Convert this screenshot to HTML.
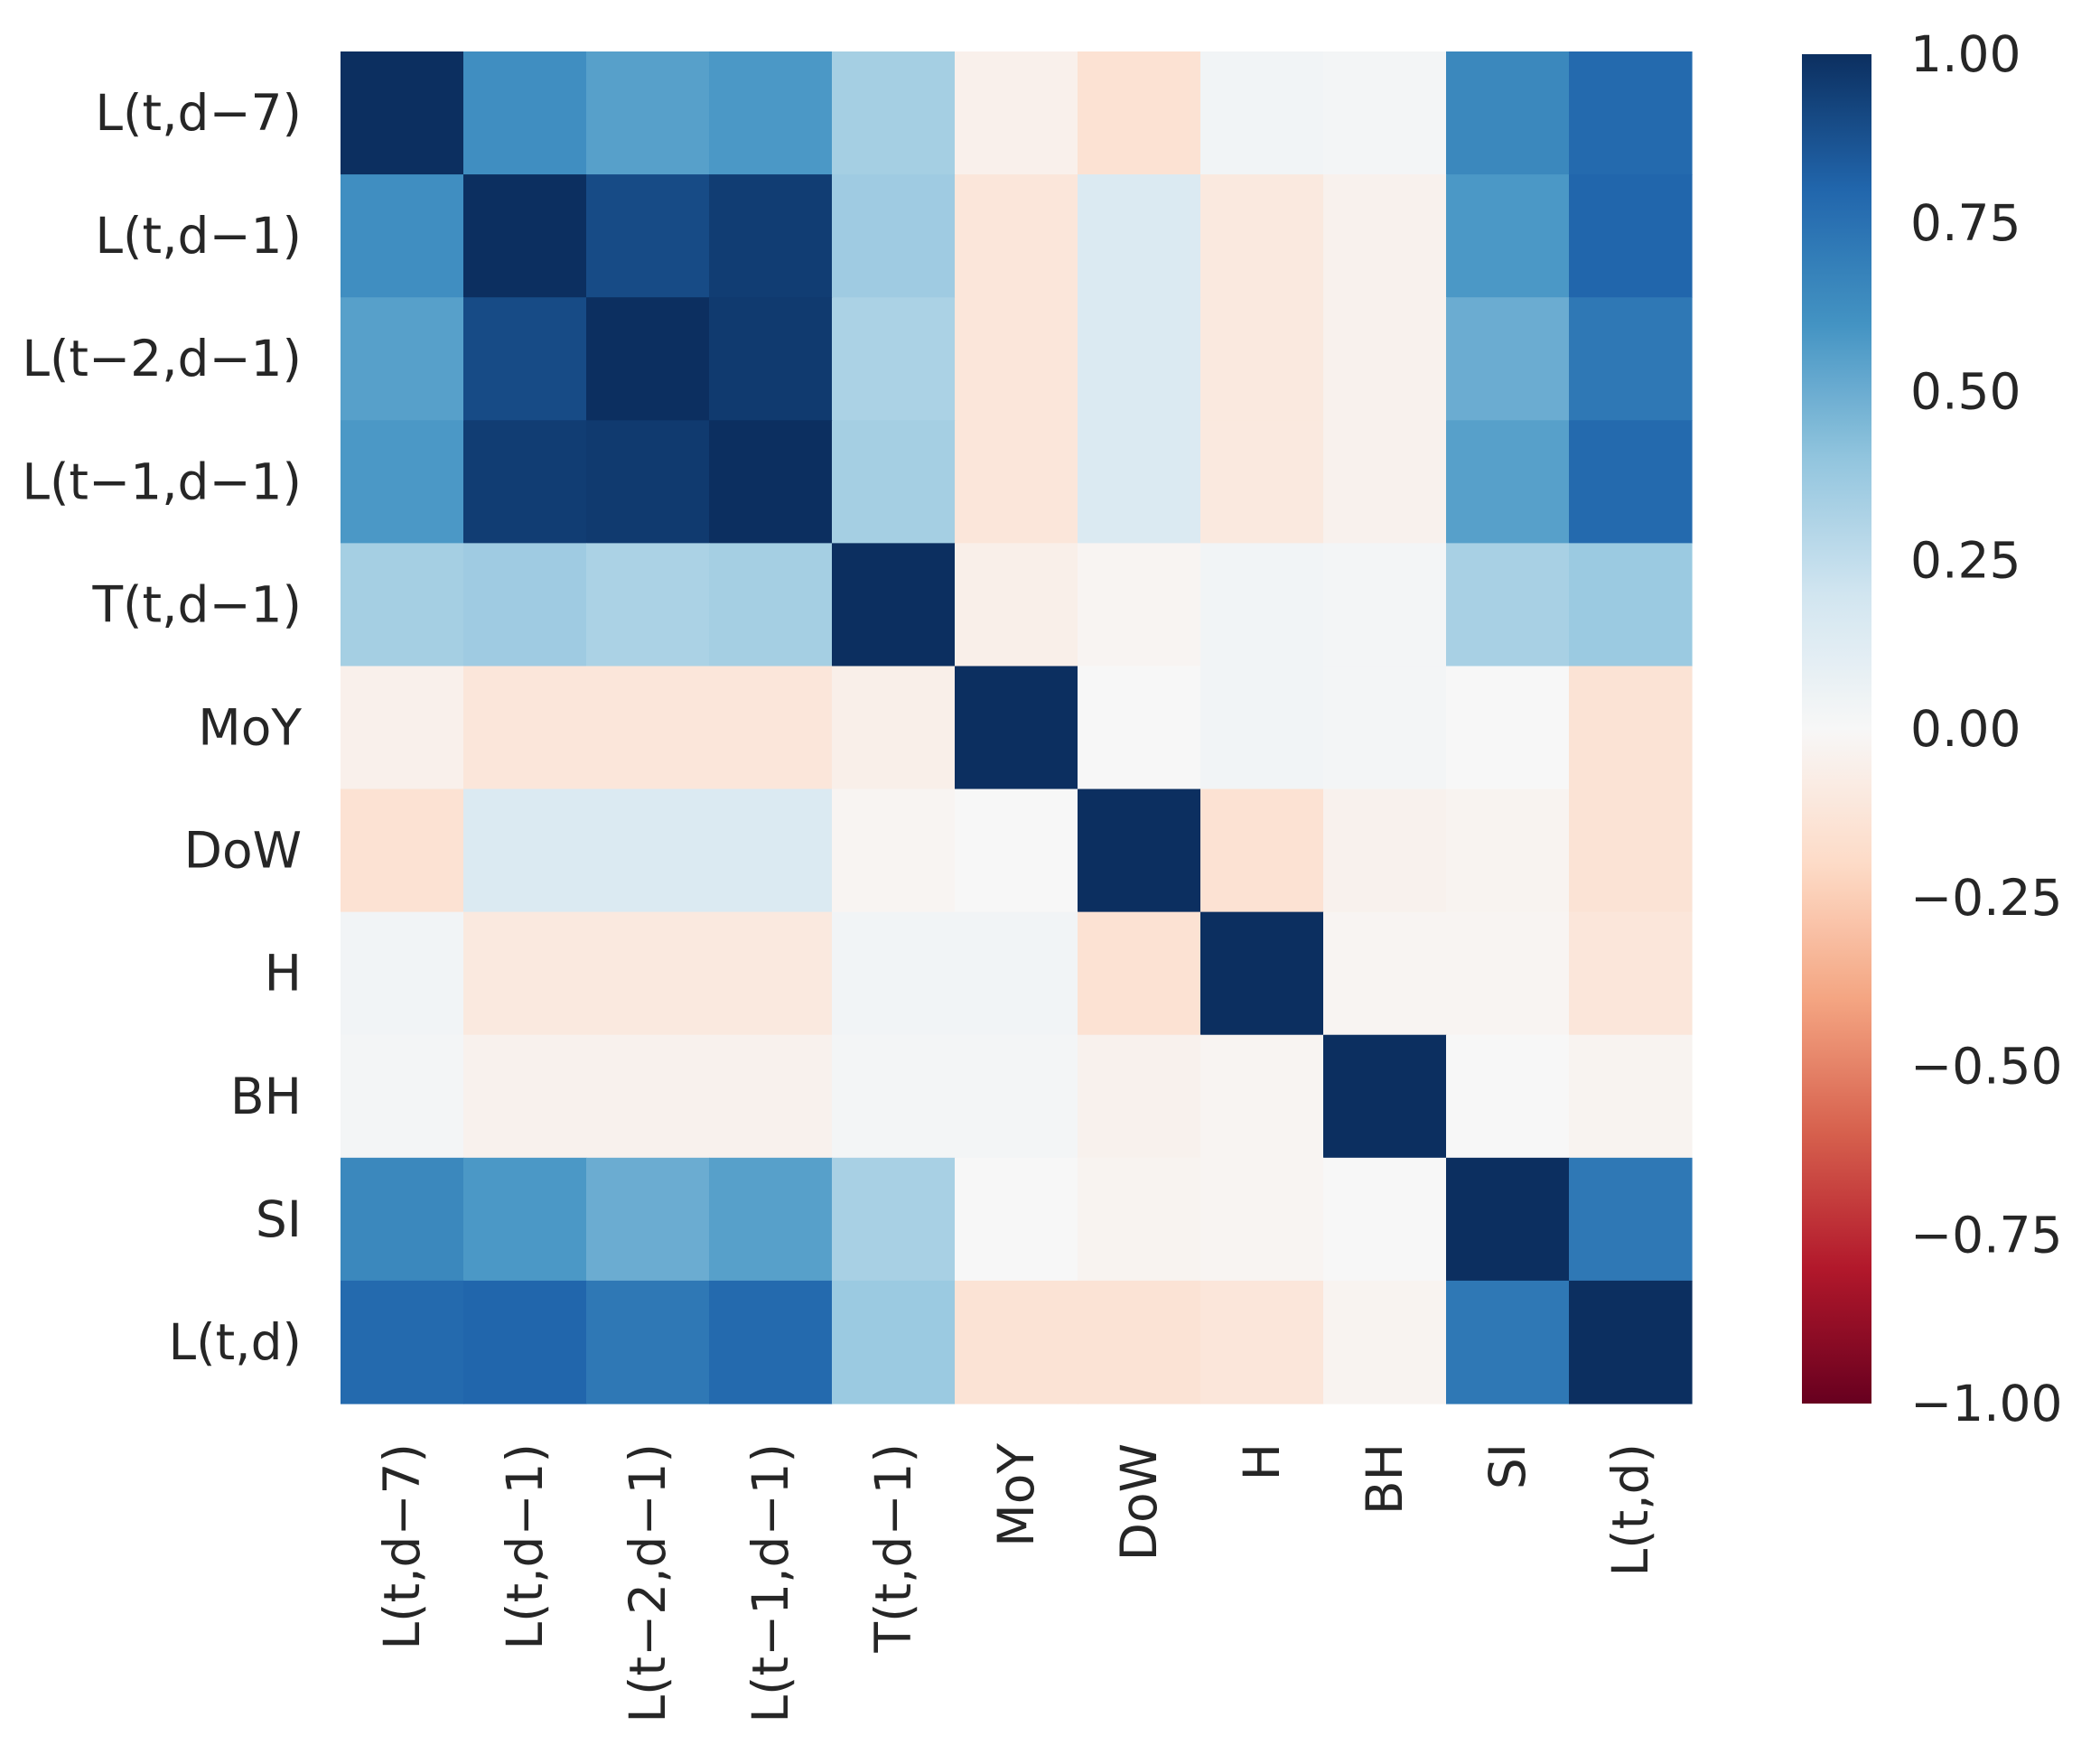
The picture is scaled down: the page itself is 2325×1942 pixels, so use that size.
<!DOCTYPE html>
<html><head><meta charset="utf-8"><style>
html,body{margin:0;padding:0;background:#fff;}
svg{display:block;font-family:"DejaVu Sans","Liberation Sans",sans-serif;}
</style></head><body>
<svg id="chart" width="2325" height="1942" viewBox="0 0 2325 1942" xmlns="http://www.w3.org/2000/svg">
<defs><linearGradient id="cbgrad" x1="0" y1="1" x2="0" y2="0"></linearGradient></defs>
<g id="cells"></g>
<g id="rowlabels"></g>
<g id="collabels"></g>
<rect id="cbar" x="1995" y="60" width="77" height="1494" fill="url(#cbgrad)"/>
<g id="cbticks"></g>
</svg>
<script>
const labels = ["L(t,d\u22127)","L(t,d\u22121)","L(t\u22122,d\u22121)","L(t\u22121,d\u22121)","T(t,d\u22121)","MoY","DoW","H","BH","SI","L(t,d)"];
const rowL7  = [1, .62, .55, .58, .34, -.05, -.15, .03, .02, .65, .78];
const rowL1  = [.62, 1, .9, .95, .36, -.12, .15, -.1, -.04, .58, .8];
const rowL2  = [.55, .9, 1, .96, .32, -.12, .15, -.1, -.04, .5, .72];
const rowL11 = [.58, .95, .96, 1, .34, -.12, .15, -.1, -.04, .55, .78];
const rowT   = [.34, .36, .32, .34, 1, -.06, -.02, .03, .02, .33, .37];
const rowMoY = [-.05, -.12, -.12, -.12, -.06, 1, 0, .03, .02, 0, -.14];
const rowDoW = [-.15, .15, .15, .15, -.02, 0, 1, -.15, -.04, -.03, -.14];
const rowH   = [.03, -.1, -.1, -.1, .03, .03, -.15, 1, -.02, -.02, -.12];
const rowBH  = [.02, -.04, -.04, -.04, .02, .02, -.04, -.02, 1, 0, -.03];
const rowSI  = [.65, .58, .5, .55, .33, 0, -.03, -.02, 0, 1, .72];
const rowLd  = [.78, .8, .72, .78, .37, -.14, -.14, -.12, -.03, .72, 1];
const matrix = [rowL7,rowL1,rowL2,rowL11,rowT,rowMoY,rowDoW,rowH,rowBH,rowSI,rowLd];
const cbTickValues = [1, .75, .5, .25, 0, -.25, -.5, -.75, -1];
const cbTickLabels = ["1.00","0.75","0.50","0.25","0.00","\u22120.25","\u22120.50","\u22120.75","\u22121.00"];

const NS="http://www.w3.org/2000/svg";
const X0=377, Y0=57, W=1496, H=1497, CBT=60, CBH=1494;
const n=labels.length, cw=W/n, ch=H/n;
const xPos=i=>X0+i*cw, yPos=i=>Y0+i*ch;
const cbY=v=>CBT+(1-v)/2*CBH;
const stops=["#67001f","#b2182b","#d6604d","#f4a582","#fddbc7","#f7f7f7","#d1e5f0","#92c5de","#4393c3","#2166ac","#0c2f60"];
function hex(h){return [1,3,5].map(k=>parseInt(h.substr(k,2),16));}
function color(v){
  let t=(Math.max(-1,Math.min(1,v))+1)/2*(stops.length-1);
  let i=Math.min(Math.floor(t),stops.length-2), f=t-i;
  const a=hex(stops[i]), b=hex(stops[i+1]);
  return "rgb("+a.map((c,k)=>Math.round(c+(b[k]-c)*f)).join(",")+")";
}
const cells=document.getElementById("cells");
matrix.forEach((row,r)=>row.forEach((v,c)=>{
  const el=document.createElementNS(NS,"rect");
  
  
  el.setAttribute("x",xPos(c));el.setAttribute("y",yPos(r));
  el.setAttribute("width",cw+0.6);el.setAttribute("height",ch+0.6);
  el.setAttribute("fill",color(v));
  cells.appendChild(el);
}));
const rl=document.getElementById("rowlabels"), cl=document.getElementById("collabels");
labels.forEach((lab,i)=>{
  const t=document.createElementNS(NS,"text");
  
  
  t.setAttribute("x",334);t.setAttribute("y",yPos(i)+ch/2);
  t.setAttribute("text-anchor","end");t.setAttribute("dominant-baseline","central");
  t.setAttribute("font-size","55");t.setAttribute("fill","#262626");
  t.textContent=lab;rl.appendChild(t);
  const u=document.createElementNS(NS,"text");
  
  
  const cx=xPos(i)+cw/2, cy=1598;
  u.setAttribute("x",cx);u.setAttribute("y",cy);
  u.setAttribute("text-anchor","end");u.setAttribute("dominant-baseline","central");
  u.setAttribute("font-size","55");u.setAttribute("fill","#262626");
  u.setAttribute("transform","rotate(-90 "+cx+" "+cy+")");
  u.textContent=lab;cl.appendChild(u);
});
const g=document.getElementById("cbgrad");
for(let k=0;k<=40;k++){
  const v=-1+k/20;
  const s=document.createElementNS(NS,"stop");
  s.setAttribute("offset",(k/40));s.setAttribute("stop-color",color(v));
  g.appendChild(s);
}
const cbt=document.getElementById("cbticks");
cbTickValues.forEach((v,i)=>{
  const t=document.createElementNS(NS,"text");
  
  
  t.setAttribute("x",2115);t.setAttribute("y",cbY(v));
  t.setAttribute("dominant-baseline","central");
  t.setAttribute("font-size","55");t.setAttribute("fill","#262626");
  t.textContent=cbTickLabels[i];cbt.appendChild(t);
});
</script>
</body></html>
